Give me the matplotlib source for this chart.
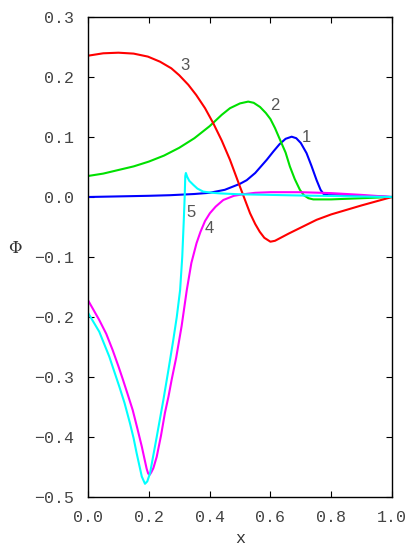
import matplotlib.pyplot as plt

# curve 1 (blue)
x1 = [0, 0.1, 0.2, 0.27, 0.35, 0.4, 0.45, 0.5, 0.522, 0.55, 0.588, 0.61, 0.63,
      0.65, 0.67, 0.685, 0.7, 0.719, 0.735, 0.752, 0.765, 0.775, 0.79, 0.85,
      0.9, 1.0]
y1 = [0, 0.001, 0.002, 0.003, 0.005, 0.007, 0.012, 0.022, 0.028, 0.04, 0.062,
      0.076, 0.088, 0.097, 0.1005, 0.098, 0.09, 0.073, 0.052, 0.028, 0.012,
      0.005, 0.003, 0.0025, 0.002, 0]

# curve 2 (green)
x2 = [0, 0.05, 0.1, 0.15, 0.2, 0.25, 0.3, 0.35, 0.4, 0.44, 0.467, 0.5, 0.527,
      0.545, 0.566, 0.585, 0.6, 0.615, 0.632, 0.65, 0.664, 0.68, 0.697, 0.71,
      0.725, 0.741, 0.8, 0.9, 1.0]
y2 = [0.035, 0.039, 0.045, 0.051, 0.059, 0.069, 0.082, 0.098, 0.118, 0.137,
      0.148, 0.156, 0.159, 0.157, 0.15, 0.14, 0.13, 0.115, 0.095, 0.074, 0.051,
      0.03, 0.012, 0.003, -0.002, -0.004, -0.004, -0.002, 0]

# curve 3 (red)
x3 = [0, 0.05, 0.1, 0.15, 0.197, 0.237, 0.274, 0.3, 0.33, 0.356, 0.385, 0.412,
      0.44, 0.467, 0.5, 0.533, 0.55, 0.565, 0.58, 0.6, 0.615, 0.63, 0.66, 0.7,
      0.752, 0.8, 0.9, 1.0]
y3 = [0.2355, 0.2395, 0.2405, 0.239, 0.234, 0.2255, 0.2145, 0.203, 0.187, 0.17,
      0.148, 0.123, 0.094, 0.062, 0.017, -0.027, -0.045, -0.058, -0.068,
      -0.0745, -0.073, -0.069, -0.061, -0.051, -0.038, -0.029, -0.014, 0]

# curve 4 (magenta)
x4 = [0, 0.037, 0.06, 0.081, 0.1, 0.114, 0.13, 0.147, 0.162, 0.177, 0.186,
      0.193, 0.198, 0.203, 0.208, 0.215, 0.226, 0.24, 0.253, 0.265, 0.275,
      0.29, 0.308, 0.325, 0.34, 0.357, 0.37, 0.385, 0.401, 0.42, 0.445, 0.48,
      0.51, 0.55, 0.6, 0.7, 0.8, 0.9, 1.0]
y4 = [-0.172, -0.205, -0.228, -0.255, -0.282, -0.303, -0.328, -0.355, -0.385,
      -0.416, -0.437, -0.453, -0.461, -0.463, -0.459, -0.452, -0.433, -0.398,
      -0.36, -0.332, -0.305, -0.268, -0.215, -0.155, -0.11, -0.077, -0.058,
      -0.04, -0.027, -0.016, -0.005, 0.002, 0.0045, 0.007, 0.008, 0.008,
      0.0065, 0.0035, 0]

# curve 5 (cyan)
x5 = [0, 0.037, 0.07, 0.103, 0.12, 0.138, 0.15, 0.16, 0.177, 0.1875, 0.195,
      0.204, 0.226, 0.248, 0.264, 0.28, 0.292, 0.303, 0.31, 0.315, 0.318, 0.32,
      0.322, 0.326, 0.333, 0.347, 0.36, 0.379, 0.41, 0.434, 0.5, 0.6, 0.7, 0.8,
      0.9, 1.0]
y5 = [-0.193, -0.2245, -0.266, -0.316, -0.343, -0.377, -0.402, -0.427, -0.466,
      -0.478, -0.474, -0.4605, -0.4, -0.338, -0.29, -0.24, -0.2, -0.155, -0.1,
      -0.04, 0.0, 0.035, 0.04, 0.034, 0.027, 0.02, 0.014, 0.009, 0.007, 0.006,
      0.0045, 0.0035, 0.0025, 0.0017, 0.0008, 0]

labels = ['1', '2', '3', '4', '5']
label_x = [0.717, 0.615, 0.319, 0.399, 0.338]
label_y = [0.0995, 0.152, 0.219, -0.052, -0.026]

xs = [x1, x2, x3, x4, x5]
ys = [y1, y2, y3, y4, y5]
colors = ['#0000ff', '#00e000', '#ff0000', '#ff00ff', '#00ffff']

fig = plt.figure(figsize=(4.15, 5.53), dpi=100)
ax = fig.add_axes([88 / 415, 1 - 497 / 553, 304 / 415, 480 / 553])

for x, y, c in zip(xs, ys, colors):
    ax.plot(x, y, color=c, lw=1.5)

for t, lx, ly in zip(labels, label_x, label_y):
    ax.text(lx, ly, t, fontsize=12, color='#555555', ha='center', va='center',
            family='Liberation Sans')

ax.set_xlim(0, 1)
ax.set_ylim(-0.5, 0.3)
ax.set_xticks([0, 0.2, 0.4, 0.6, 0.8, 1.0])
ax.set_yticks([-0.5, -0.4, -0.3, -0.2, -0.1, 0.0, 0.1, 0.2, 0.3])
ax.set_xticklabels(['0.0', '0.2', '0.4', '0.6', '0.8', '1.0'])
ax.set_yticklabels(['\u22120.5', '\u22120.4', '\u22120.3', '\u22120.2', '\u22120.1',
                    '0.0', '0.1', '0.2', '0.3'])
ax.tick_params(direction='in', length=4, top=True, right=True, width=0.8,
               labelsize=12, labelcolor='#444444')
ax.tick_params(axis='x', pad=9)
ax.tick_params(axis='y', pad=10)
for lab in ax.get_xticklabels() + ax.get_yticklabels():
    lab.set_family('Liberation Mono')
for s in ax.spines.values():
    s.set_linewidth(1.0)

ax.set_xlabel('x', fontsize=12, family='Liberation Mono', color='#333333')
ax.xaxis.set_label_coords(0.5, -0.07)
ax.set_ylabel('\u03a6', fontsize=12, rotation=0, family='DejaVu Serif', color='#333333')
ax.yaxis.set_label_coords(-0.24, 0.5)

fig.savefig('out.png', dpi=100)
